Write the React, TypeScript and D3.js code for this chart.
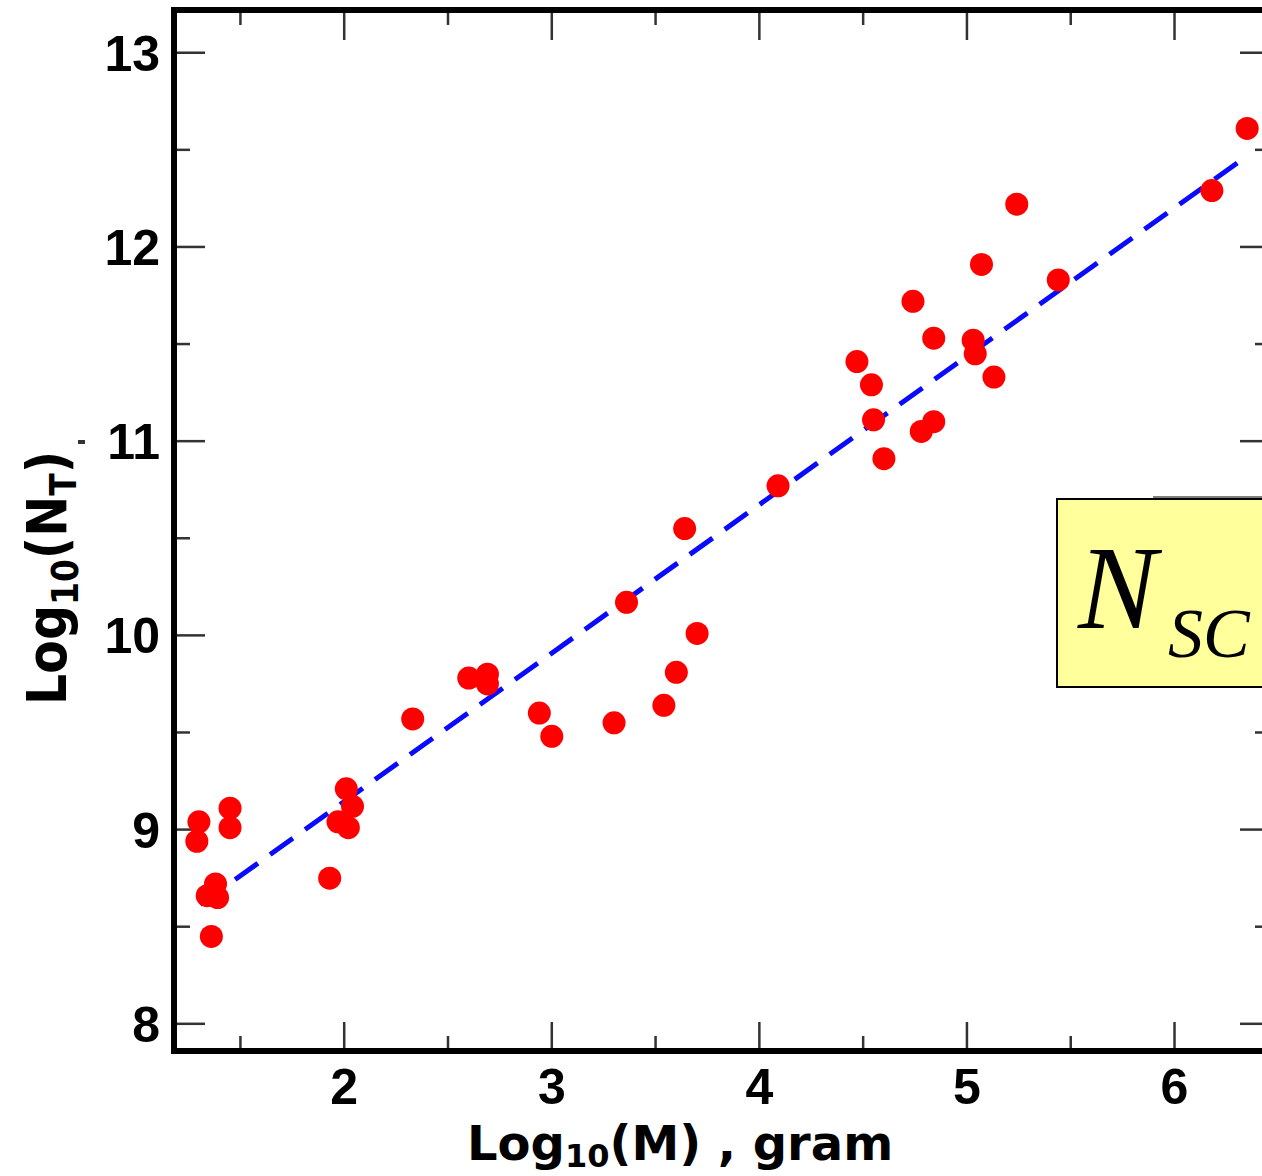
import React from "react";
import * as d3 from "d3";

const massX = [1.29, 1.30, 1.45, 1.45, 1.34, 1.38, 1.39, 1.36, 1.93, 2.01, 2.04, 1.97, 2.02,
  2.33, 2.60, 2.69, 2.69, 2.94, 3.00, 3.30, 3.36, 3.54, 3.60, 3.64, 3.70,
  4.09, 4.47, 4.54, 4.55, 4.60, 4.74, 4.78, 4.84, 4.84, 5.03, 5.04, 5.07, 5.13, 5.24, 5.44,
  6.18, 6.35];
const countY = [8.94, 9.04, 9.11, 9.01, 8.66, 8.72, 8.65, 8.45, 8.75, 9.21, 9.12, 9.04, 9.01,
  9.57, 9.78, 9.80, 9.75, 9.60, 9.48, 9.55, 10.17, 9.64, 9.81, 10.55, 10.01,
  10.77, 11.41, 11.29, 11.11, 10.91, 11.72, 11.05, 11.10, 11.53, 11.52, 11.45, 11.91, 11.33, 12.22, 11.83,
  12.29, 12.61];

const fitX = [1.306, 6.304];
const fitY = [8.614, 12.434];

const xMajor = [2, 3, 4, 5, 6];
const xMinor = [1.5, 2.5, 3.5, 4.5, 5.5];
const yMajor = [8, 9, 10, 11, 12, 13];
const yMinor = [8.5, 9.5, 10.5, 11.5, 12.5];

const W = 1262;
const H = 1176;
const L = 174, R = 1271, T = 10, B = 1051;

export default function App() {
  const x = d3.scaleLinear().domain([1.18, 6.46]).range([L, R - 1]);
  const y = d3.scaleLinear().domain([7.86, 13.22]).range([B, T]);
  const line = d3.line<number>().x((_, i) => x(fitX[i])).y((_, i) => y(fitY[i]));
  const tickStroke = "#333";
  const tw = 2.5;
  return (
    <svg width={W} height={H} style={{ position: "absolute", left: 0, top: 0, background: "#fff" }}>
      <rect x={0} y={0} width={W} height={H} fill="#fff" />
      {xMajor.map((v) => (
        <g key={"xM" + v}>
          <line x1={x(v)} x2={x(v)} y1={B} y2={B - 29} stroke={tickStroke} strokeWidth={tw} />
          <line x1={x(v)} x2={x(v)} y1={T} y2={T + 30} stroke={tickStroke} strokeWidth={tw} />
          <text x={x(v)} y={1104} textAnchor="middle" fontFamily="Liberation Sans, Arial, sans-serif" fontWeight="bold" fontSize={50} fill="#000">{v}</text>
        </g>
      ))}
      {xMinor.map((v) => (
        <g key={"xm" + v}>
          <line x1={x(v)} x2={x(v)} y1={B} y2={B - 15} stroke={tickStroke} strokeWidth={tw} />
          <line x1={x(v)} x2={x(v)} y1={T} y2={T + 15} stroke={tickStroke} strokeWidth={tw} />
        </g>
      ))}
      {yMajor.map((v) => (
        <g key={"yM" + v}>
          <line x1={L} x2={L + 31} y1={y(v)} y2={y(v)} stroke={tickStroke} strokeWidth={tw} />
          <line x1={R} x2={R - 31} y1={y(v)} y2={y(v)} stroke={tickStroke} strokeWidth={tw} />
          <text x={160} y={y(v)} dy="0.36em" textAnchor="end" fontFamily="Liberation Sans, Arial, sans-serif" fontWeight="bold" fontSize={50} fill="#000">{v}</text>
        </g>
      ))}
      {yMinor.map((v) => (
        <g key={"ym" + v}>
          <line x1={L} x2={L + 16} y1={y(v)} y2={y(v)} stroke={tickStroke} strokeWidth={tw} />
          <line x1={R} x2={R - 16} y1={y(v)} y2={y(v)} stroke={tickStroke} strokeWidth={tw} />
        </g>
      ))}
      <rect x={L} y={T} width={R - L} height={B - T} fill="none" stroke="#000" strokeWidth={6} />
      <path d={line(fitX) || ""} fill="none" stroke="#0a0aff" strokeWidth={5} strokeDasharray="28 15" />
      {massX.map((v, i) => (
        <circle key={"p" + i} cx={x(v)} cy={y(countY[i])} r={11.5} fill="#ff0000" />
      ))}
      <line x1={1153} x2={W} y1={497} y2={497} stroke="#555" strokeWidth={1.5} />
      <rect x={1057} y={499} width={220} height={188} fill="#ffff9c" stroke="#000" strokeWidth={2} />
      <text x={1078} y={628} fontFamily="Liberation Serif, Times New Roman, serif" fontStyle="italic" fontSize={118} fill="#000">N</text>
      <text x={1168} y={657} fontFamily="Liberation Serif, Times New Roman, serif" fontStyle="italic" fontSize={70} fill="#000">SC</text>
      <text x={467} y={1160} fontFamily="DejaVu Sans, Verdana, sans-serif" fontWeight="bold" fontSize={48} fill="#000">
        Log<tspan fontSize={32} dy={7}>10</tspan><tspan dy={-7}>(M) , gram</tspan>
      </text>
      <g transform="translate(66,705) rotate(-90) scale(1,1.12)">
        <text x={0} y={0} fontFamily="DejaVu Sans, Verdana, sans-serif" fontWeight="bold" fontSize={49} fill="#000">
          Log<tspan fontSize={33} dy={11}>10</tspan><tspan dy={-11}>(N</tspan><tspan fontSize={33} dy={9}>T</tspan><tspan dy={-9}>)</tspan>
        </text>
      </g>
      <rect x={78} y={440} width={7} height={4} fill="#333" />
    </svg>
  );
}
